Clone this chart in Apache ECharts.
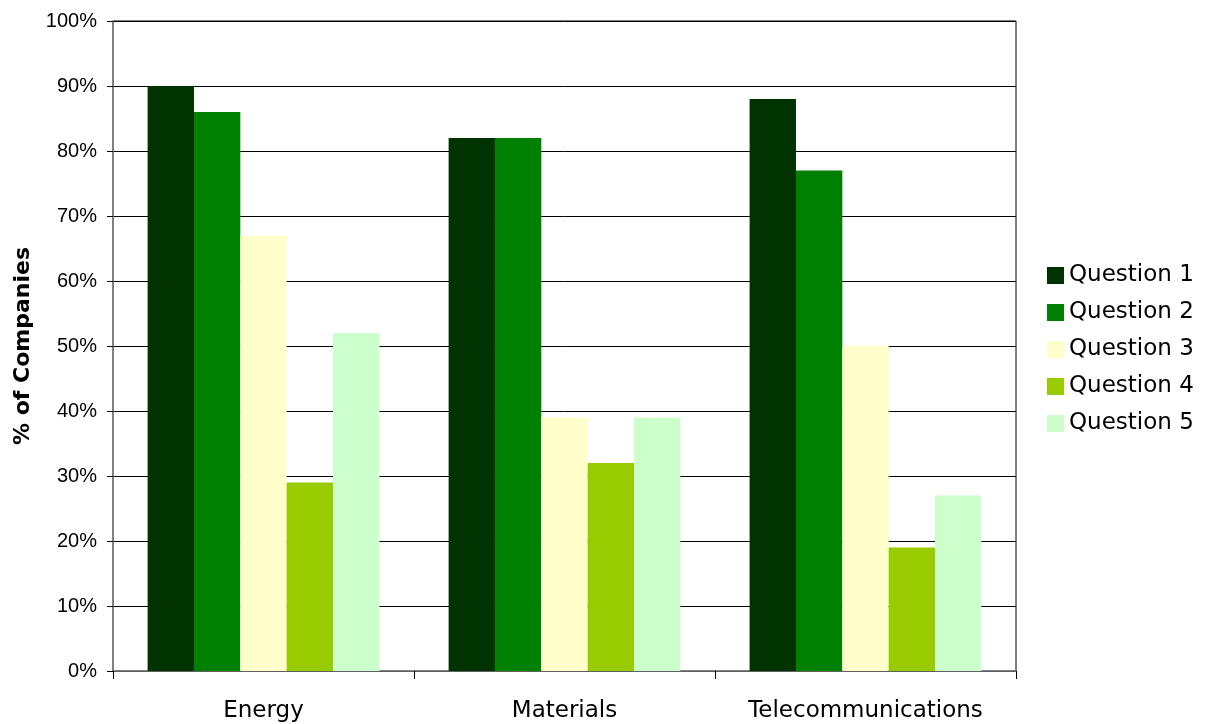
<!DOCTYPE html>
<html><head><meta charset="utf-8">
<script src="https://cdn.jsdelivr.net/npm/echarts@6/dist/echarts.min.js"></script>
<style>html,body{margin:0;padding:0;background:#fff}#c{width:1209px;height:724px}</style>
</head><body><div id="c"></div>
<script>
var categories = ['Energy', 'Materials', 'Telecommunications'];
var seriesNames = ['Question 1', 'Question 2', 'Question 3', 'Question 4', 'Question 5'];
var q1 = [90, 82, 88];
var q2 = [86, 82, 77];
var q3 = [67, 39, 50];
var q4 = [29, 32, 19];
var q5 = [52, 39, 27];
var colors = ['#003300', '#008000', '#FFFFCC', '#99CC00', '#CCFFCC'];
var values = [q1, q2, q3, q4, q5];

var chart = echarts.init(document.getElementById('c'));
chart.setOption({
  animation: false,
  grid: {left: 113, right: 193, top: 21, bottom: 53, show: true, borderColor: '#000', borderWidth: 1, containLabel: false, outerBoundsMode: 'none'},
  legend: {
    orient: 'vertical', left: 1047, top: 264, padding: 0,
    itemWidth: 17, itemHeight: 17, itemGap: 14,
    icon: 'rect',
    textStyle: {fontFamily: 'DejaVu Sans', fontSize: 23, lineHeight: 21, color: '#000'},
    data: seriesNames
  },
  xAxis: {
    type: 'category', data: categories,
    axisLine: {lineStyle: {color: '#808080', width: 1.5}},
    axisTick: {show: true, interval: 0, length: 8, lineStyle: {color: '#000'}},
    axisLabel: {interval: 0, fontFamily: 'DejaVu Sans', fontSize: 23, color: '#000', margin: 29}
  },
  yAxis: {
    type: 'value', min: 0, max: 100, interval: 10,
    name: '% of Companies', nameLocation: 'middle', nameGap: 79,
    nameTextStyle: {fontFamily: 'DejaVu Sans', fontWeight: 'bold', fontSize: 22, color: '#000'},
    axisLine: {show: true, lineStyle: {color: '#808080', width: 1.5}},
    axisTick: {show: true, length: 6, lineStyle: {color: '#000'}},
    axisLabel: {formatter: '{value}%', fontFamily: 'Liberation Sans', fontSize: 20, color: '#000', margin: 16},
    splitLine: {lineStyle: {color: '#000', width: 1}}
  },
  series: seriesNames.map(function (n, i) {
    return {name: n, type: 'bar', data: values[i], barGap: 0, barCategoryGap: '23%',
      itemStyle: {color: colors[i]}};
  })
});
</script></body></html>
